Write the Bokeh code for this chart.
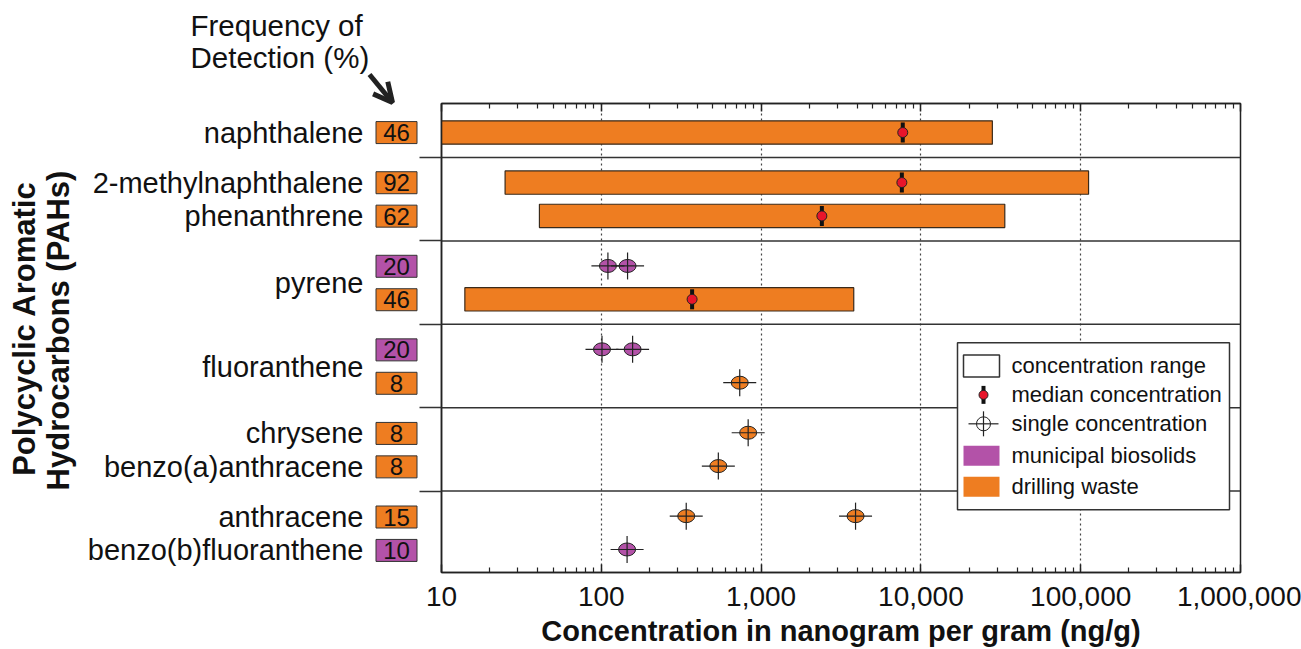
import numpy as np
from bokeh.plotting import figure
from bokeh.models import (Range1d, FixedTicker, LogAxis, LinearAxis, NumeralTickFormatter,
                          CustomJSTickFormatter, Arrow, OpenHead)
from bokeh.layouts import row, column
from bokeh.embed import file_html
from bokeh.resources import INLINE
from bokeh.core.properties import value

# ---------------- data ----------------
row_names = ["naphthalene", "2-methylnaphthalene", "phenanthrene", "pyrene", "pyrene",
             "fluoranthene", "fluoranthene", "chrysene", "benzo(a)anthracene",
             "anthracene", "benzo(b)fluoranthene"]
row_source = ["drilling waste", "drilling waste", "drilling waste", "municipal biosolids",
              "drilling waste", "municipal biosolids", "drilling waste", "drilling waste",
              "drilling waste", "drilling waste", "municipal biosolids"]
row_group = [0, 1, 1, 2, 2, 3, 3, 4, 4, 5, 5]
detection_freq = [46, 92, 62, 20, 46, 20, 8, 8, 8, 15, 10]

range_row = [0, 1, 2, 4]
range_min = [10, 25, 41, 14]
range_max = [28000, 112000, 33500, 3800]
range_median = [7700, 7600, 2400, 370]

single_row = [3, 3, 5, 5, 6, 7, 8, 9, 9, 10]
single_value = [110, 146, 101, 157, 735, 830, 540, 340, 3900, 145]

x_ticks = [10, 100, 1000, 10000, 100000, 1000000]
legend_labels = ["concentration range", "median concentration", "single concentration",
                 "municipal biosolids", "drilling waste"]

COLORS = {"drilling waste": "#EE7D21", "municipal biosolids": "#B352A8"}
RED = "#E8152B"
DARK = "#222222"
FONT = "Liberation Sans"

# ---------------- layout helpers ----------------
W, H = 1301, 649
FL, FR, FT, FB = 441, 1240, 103, 573
LW = 418                      # width of the label panel
STUB = FL - LW                # left border of the main plot (separator stubs)
row_y = [i + 0.5 * g for i, g in enumerate(row_group)]
Y_TOP = row_y[0] - 0.87
Y_BOT = row_y[-1] + 0.69
upp = (Y_BOT - Y_TOP) / (FB - FT)


def py(pix):
    return Y_TOP + (pix - FT) * upp


def px(pix):
    return 10 ** (1 + (pix - FL) * 5.0 / (FR - FL))


sep_y = [(row_y[i] + row_y[i + 1]) / 2 for i in range(len(row_y) - 1)
         if row_group[i] != row_group[i + 1]]
minor = [k * 10 ** e for e in range(1, 6) for k in range(2, 10)]

# ---------------- main (right) figure ----------------
p = figure(width=W - LW, height=H, x_axis_type="log", title=None,
           x_range=Range1d(10, 1e6), y_range=Range1d(Y_BOT, Y_TOP),
           output_backend="svg", toolbar_location=None, y_axis_location=None,
           min_border_left=STUB, min_border_right=W - FR, min_border_top=FT,
           min_border_bottom=H - FB)
p.outline_line_color = DARK
p.outline_line_width = 1.5

ax = p.xaxis[0]
ax.ticker = FixedTicker(ticks=x_ticks, minor_ticks=minor)
ax.formatter = NumeralTickFormatter(format="0,0")
ax.major_label_text_font = FONT
ax.major_label_text_font_size = "28px"
ax.major_label_text_color = "#111111"
ax.major_label_standoff = 14
ax.axis_label = "Concentration in nanogram per gram (ng/g)"
ax.axis_label_text_font = FONT
ax.axis_label_text_font_style = "bold"
ax.axis_label_text_font_size = "29px"
ax.axis_label_text_color = "#111111"
ax.axis_label_standoff = 6

top = LogAxis(ticker=FixedTicker(ticks=x_ticks, minor_ticks=minor),
              formatter=NumeralTickFormatter(format="0,0"),
              major_label_text_color=None, major_label_text_font_size="10px")
p.add_layout(top, "above")
for a in [ax, top]:
    a.major_tick_in, a.major_tick_out = 8, 0
    a.minor_tick_in, a.minor_tick_out = 5, 0
    a.axis_line_width = 1.5
    a.axis_line_color = DARK
    a.major_tick_line_color = DARK
    a.minor_tick_line_color = DARK
    a.major_tick_line_width = 1.5
    a.minor_tick_line_width = 1.2

# left axis: its outward ticks are the separator stubs left of the frame
left = LinearAxis(ticker=FixedTicker(ticks=sep_y, minor_ticks=[]),
                  formatter=CustomJSTickFormatter(code="return ''"),
                  major_tick_out=STUB - 1, major_tick_in=0, minor_tick_in=0,
                  minor_tick_out=0, major_label_standoff=0,
                  major_label_text_font_size="10px",
                  axis_line_color=DARK, axis_line_width=1.5,
                  major_tick_line_color="#333333", major_tick_line_width=1.5)
p.add_layout(left, "left")

p.xgrid.ticker = FixedTicker(ticks=x_ticks[1:-1])
p.xgrid.grid_line_dash = "2 3"
p.xgrid.grid_line_color = "#444444"
p.xgrid.grid_line_width = 1.2
p.ygrid.visible = False

# group separators
p.segment(x0=[10] * len(sep_y), x1=[1e6] * len(sep_y), y0=sep_y, y1=sep_y,
          line_color="#333333", line_width=1.5)

# concentration ranges
ry = [row_y[r] for r in range_row]
rc = [COLORS[row_source[r]] for r in range_row]
p.quad(left=range_min, right=range_max, top=[y - 0.35 for y in ry],
       bottom=[y + 0.35 for y in ry], fill_color=rc, line_color="#3a2a1a", line_width=1.2)

# medians
p.segment(x0=range_median, x1=range_median, y0=[y - 0.3 for y in ry],
          y1=[y + 0.3 for y in ry], line_color="#111111", line_width=4)
p.scatter(range_median, ry, size=10, fill_color=RED, line_color=DARK, line_width=1)

# single concentrations
sy = [row_y[r] for r in single_row]
sc = [COLORS[row_source[r]] for r in single_row]
p.ellipse(single_value, sy, width=17, height=13, width_units="screen",
          height_units="screen", fill_color=sc, line_color=DARK, line_width=1)
p.scatter(single_value, sy, marker="dash", size=33, line_color=DARK, line_width=1.2)
p.scatter(single_value, sy, marker="dash", size=27, angle=np.pi / 2,
          line_color=DARK, line_width=1.2)

# legend (drawn manually)
p.rect(x=[px((957 + 1229) / 2)], y=[py((343 + 510) / 2)], width=272, height=167,
       width_units="screen", height_units="screen", fill_color="white",
       line_color="#333333", line_width=1.5)
ly = [366, 395, 424, 456, 487]
gx = px(981)
p.rect(x=[gx], y=[py(ly[0])], width=36, height=22, width_units="screen",
       height_units="screen", fill_color="white", line_color="#333333", line_width=1.5)
p.segment(x0=[px(983)], x1=[px(983)], y0=[py(ly[1] - 9)], y1=[py(ly[1] + 9)],
          line_color="#111111", line_width=4)
p.scatter([px(983)], [py(ly[1])], size=9, fill_color=RED, line_color=DARK, line_width=1)
p.ellipse([px(983)], [py(ly[2])], width=14, height=14, width_units="screen",
          height_units="screen", fill_color=None, line_color=DARK, line_width=1)
p.scatter([px(983)], [py(ly[2])], marker="dash", size=30, line_color=DARK, line_width=1.2)
p.scatter([px(983)], [py(ly[2])], marker="dash", size=25, angle=np.pi / 2,
          line_color=DARK, line_width=1.2)
p.rect(x=[gx, gx], y=[py(ly[3]), py(ly[4])], width=36, height=20, width_units="screen",
       height_units="screen", fill_color=[COLORS["municipal biosolids"],
                                         COLORS["drilling waste"]], line_color=None)
p.text(x=[px(1011)] * 5, y=[py(v) for v in ly], text=legend_labels,
       text_baseline="middle", text_align="left", text_font=value(FONT),
       text_font_size="22px", text_color="#111111")

# ---------------- left (label) figure: frame covers its whole canvas ----------------
q = figure(width=LW, height=H, title=None, x_range=Range1d(0, LW),
           y_range=Range1d(py(H), py(0)), output_backend="svg",
           toolbar_location=None, x_axis_location=None, y_axis_location=None,
           min_border=0, min_border_left=0, min_border_right=0, min_border_top=0,
           min_border_bottom=0)
q.outline_line_color = None
q.grid.visible = False

names, name_y = [], []
for n, y in zip(row_names, row_y):
    if n not in names:
        names.append(n)
        name_y.append([y])
    else:
        name_y[names.index(n)].append(y)
name_y = [sum(v) / len(v) for v in name_y]
q.text(x=[363] * len(names), y=name_y, text=names, text_align="right",
       text_baseline="middle", text_font=value(FONT), text_font_size="29px",
       text_color="#111111")

q.rect(x=[396] * len(row_y), y=row_y, width=41, height=22, height_units="screen",
       fill_color=[COLORS[s] for s in row_source], line_color="#333333", line_width=1)
q.text(x=[396] * len(row_y), y=row_y, text=[str(f) for f in detection_freq],
       text_align="center", text_baseline="middle", text_font=value(FONT),
       text_font_size="24px", text_color="#111111")

q.text(x=[24, 58], y=[py(328), py(330)],
       text=["Polycyclic Aromatic", "Hydrocarbons (PAHs)"], angle=np.pi / 2,
       text_align="center", text_baseline="middle", text_font=value(FONT),
       text_font_style="bold", text_font_size="31px", text_color="#111111")

q.text(x=[190, 190], y=[py(25), py(57)], text=["Frequency of", "Detection (%)"],
       text_align="left", text_baseline="middle", text_font=value(FONT),
       text_font_size="29.5px", text_color="#111111")
q.add_layout(Arrow(end=OpenHead(size=19, line_width=5, line_color=DARK),
                   x_start=369, y_start=py(74), x_end=392, y_end=py(102),
                   line_width=5, line_color=DARK))

layout = row(column(q), p)
open("out.html", "w").write(file_html(layout, INLINE))
